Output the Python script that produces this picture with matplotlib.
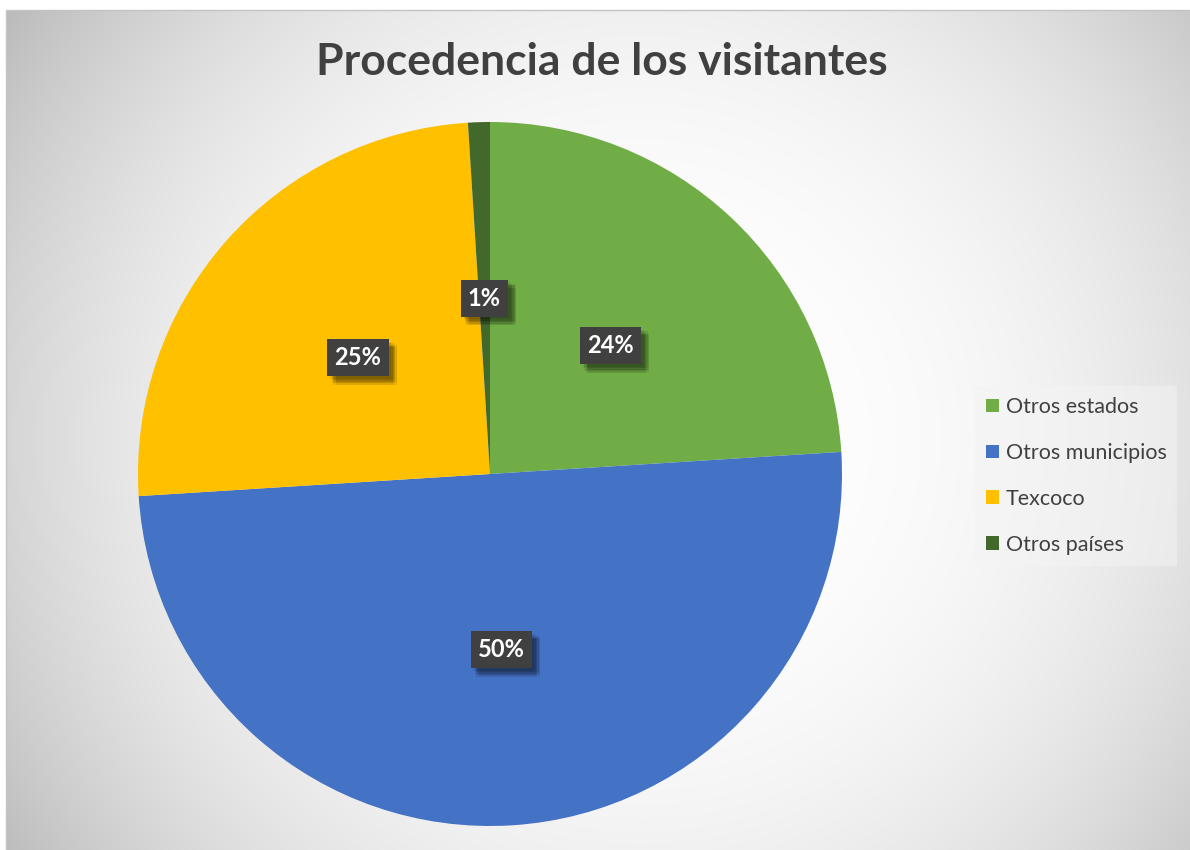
import numpy as np
import matplotlib.pyplot as plt
import matplotlib.patheffects as pe

labels = ['Otros estados', 'Otros municipios', 'Texcoco', 'Otros países']
values = [24, 50, 25, 1]
colors = ['#70AD47', '#4472C4', '#FFC000', '#43682B']

W, H = 1190, 850
fig = plt.figure(figsize=(W / 100, H / 100), dpi=100)
ax = fig.add_axes([0, 0, 1, 1])

# chart area with radial gradient (pixel coords, y up)
x0, x1, y0, y1 = 6, W, 0, H - 10
xx, yy = np.meshgrid(np.arange(x0, x1), np.arange(y0, y1))
cx, cy = 640, H - 440
d = np.hypot(xx - cx, yy - cy) / 745.0
shade = 1.0 - 0.25 * np.clip(d, 0, 1.2) ** 2.6
img = np.dstack([shade, shade, shade])
ax.imshow(img, extent=[x0, x1, y0, y1], origin='lower', zorder=0, aspect='auto')
ax.plot([x0, x0, x1], [y0, y1, y1], color='#c4c4c4', lw=1, zorder=1)

wedges, texts, autotexts = ax.pie(
    values, colors=colors, startangle=90, counterclock=False,
    center=(490, H - 474), radius=352, frame=True,
    autopct='%1.0f%%', pctdistance=0.5,
    wedgeprops=dict(linewidth=0),
    textprops=dict(color='white', fontsize=17, fontweight='bold', family='Lato'))
ax.set_xlim(0, W)
ax.set_ylim(0, H)
ax.set_aspect('equal')
ax.axis('off')

# soft shadow: a few offset copies with low alpha
shadow = [pe.SimplePatchShadow(offset=(dx, -dy), alpha=0.07, shadow_rgbFace='black')
          for dx, dy in [(2, 2), (3, 3), (4, 4), (5, 5), (6, 6), (3, 5), (5, 3), (4, 6), (6, 4)]]
for t in autotexts:
    t.set_bbox(dict(boxstyle='square,pad=0.3', fc='#404040', ec='none', lw=0))
    t.get_bbox_patch().set_path_effects(shadow + [pe.Normal()])

ax.text(602, H - 62, 'Procedencia de los visitantes', ha='center', va='center',
        fontsize=32, fontweight='bold', color='#404040', family='Lato')

leg = ax.legend(wedges, labels, loc='center left', bbox_to_anchor=(975 / W, 1 - 476 / H),
                frameon=True, fancybox=False, facecolor='#f4f4f4', framealpha=0.5,
                edgecolor='none', prop=dict(family='Lato', size=15.5),
                labelcolor='#404040', handlelength=0.6, handleheight=0.6,
                handletextpad=0.32, labelspacing=1.2, borderpad=0.5, borderaxespad=0)

fig.savefig('out.png', dpi=100, facecolor='white')
